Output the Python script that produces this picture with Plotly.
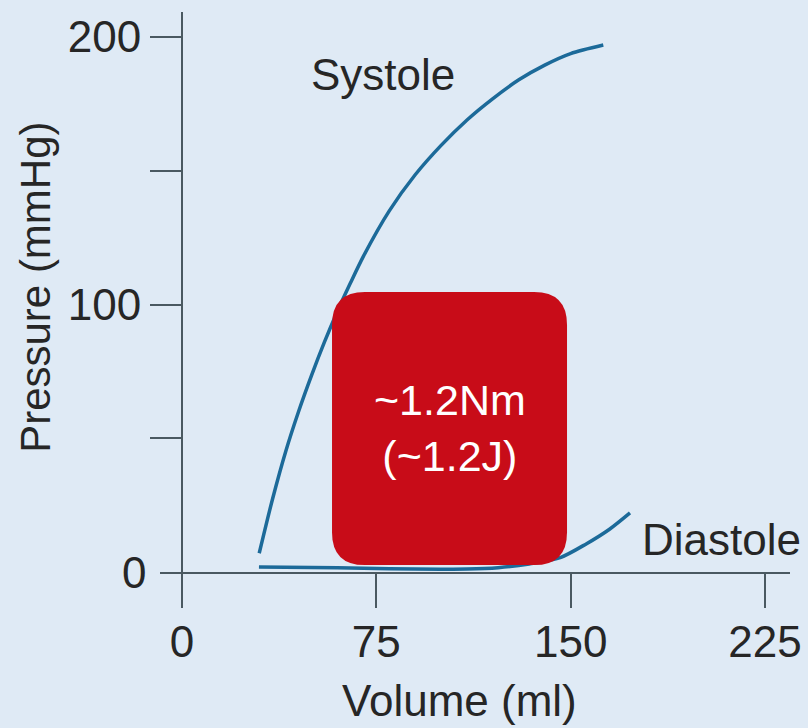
import plotly.graph_objects as go

# ---- data ----
systole_volume = [29.8, 35, 40, 45, 50, 55, 60, 65, 70, 80, 90, 100, 110, 120, 130, 140, 150, 162.6]
systole_pressure = [7, 27.5, 45, 60, 73.5, 86, 97.5, 108, 118, 135, 148.5, 159.5, 169, 177, 184, 189.5, 193.8, 197]

diastole_volume = [29.7, 50, 70, 90, 110, 122, 134, 146, 156, 165, 172.9]
diastole_pressure = [1.9, 1.7, 1.4, 1.1, 1.1, 1.6, 3.0, 5.4, 10.5, 16.0, 22.1]

x_ticks = [0, 75, 150, 225]
x_tick_labels = ["0", "75", "150", "225"]
y_ticks = [50, 100, 150, 200]
y_tick_labels = ["", "100", "", "200"]

box_volume = [57.9, 148.6]
box_pressure = [2.6, 104.7]
box_label = "~1.2Nm<br>(~1.2J)"

# ---- styles ----
BG = "#dfeaf5"
AXIS = "#4a5961"
CURVE = "#1c6a99"
RED = "#c80c18"
TXT = "#262626"
FONT = "Liberation Sans, Arial, sans-serif"
FS = 44

fig = go.Figure()
fig.add_trace(go.Scatter(x=systole_volume, y=systole_pressure, mode="lines",
                         line=dict(color=CURVE, width=3.5, shape="spline", smoothing=0.8),
                         hoverinfo="skip"))
fig.add_trace(go.Scatter(x=diastole_volume, y=diastole_pressure, mode="lines",
                         line=dict(color=CURVE, width=3.5, shape="spline", smoothing=0.8),
                         hoverinfo="skip"))

# rounded red box
x0, x1 = box_volume
y0, y1 = box_pressure
rx, ry = 12.7, 12.3
path = (f"M {x0+rx},{y0} L {x1-rx},{y0} Q {x1},{y0} {x1},{y0+ry} "
        f"L {x1},{y1-ry} Q {x1},{y1} {x1-rx},{y1} L {x0+rx},{y1} "
        f"Q {x0},{y1} {x0},{y1-ry} L {x0},{y0+ry} Q {x0},{y0} {x0+rx},{y0} Z")
fig.add_shape(type="path", path=path, xref="x", yref="y",
              fillcolor=RED, line=dict(width=0), layer="above")

fig.add_annotation(x=(x0 + x1) / 2, y=(y0 + y1) / 2, xref="x", yref="y",
                   text=box_label, showarrow=False,
                   font=dict(family=FONT, size=43, color="white"))
fig.add_annotation(x=77.6, y=185.8, xref="x", yref="y", text="Systole",
                   showarrow=False, font=dict(family=FONT, size=FS, color=TXT))
fig.add_annotation(x=208.4, y=12, xref="x", yref="y", text="Diastole",
                   showarrow=False, font=dict(family=FONT, size=FS, color=TXT))
# zero label of the pressure axis
fig.add_annotation(x=0, y=0, xref="x", yref="y", text="0", showarrow=False,
                   xanchor="right", yanchor="middle", xshift=-34,
                   font=dict(family=FONT, size=FS, color=TXT))
# axis titles
fig.add_annotation(x=-0.197, y=0.509, xref="paper", yref="paper",
                   xanchor="center", yanchor="middle",
                   text="Pressure (mmHg)", textangle=-90, showarrow=False,
                   font=dict(family=FONT, size=42, color=TXT))
fig.add_annotation(x=0.476, y=-0.2286, xref="paper", yref="paper",
                   xanchor="center", yanchor="middle",
                   text="Volume (ml)", showarrow=False,
                   font=dict(family=FONT, size=FS, color=TXT))

fig.update_layout(
    width=808, height=728,
    margin=dict(l=160, r=18, t=12, b=156),
    paper_bgcolor=BG, plot_bgcolor=BG,
    showlegend=False,
    xaxis=dict(range=[-8.49, 234.66], showgrid=False, zeroline=False,
               automargin=False,
               showline=True, linecolor=AXIS, linewidth=2,
               ticks="outside", ticklen=34, tickwidth=2, tickcolor=AXIS,
               tickvals=x_ticks, ticktext=x_tick_labels,
               tickfont=dict(family=FONT, size=FS, color=TXT),
               ticklabelstandoff=-4, fixedrange=True),
    yaxis=dict(range=[0, 209.35], showgrid=False, zeroline=False,
               automargin=False,
               anchor="free", position=22 / 630,
               showline=True, linecolor=AXIS, linewidth=2,
               ticks="outside", ticklen=31, tickwidth=2, tickcolor=AXIS,
               tickvals=y_ticks, ticktext=y_tick_labels,
               tickfont=dict(family=FONT, size=FS, color=TXT),
               fixedrange=True),
)

fig.write_html("out.html", config={"displayModeBar": False})

# remove the browser's default page margin so the figure sits at the top-left corner
with open("out.html", "r", encoding="utf-8") as f:
    html = f.read()
html = html.replace("<head>", "<head><style>html,body{margin:0;padding:0;background:%s;overflow:hidden;}</style>" % BG, 1)
with open("out.html", "w", encoding="utf-8") as f:
    f.write(html)
